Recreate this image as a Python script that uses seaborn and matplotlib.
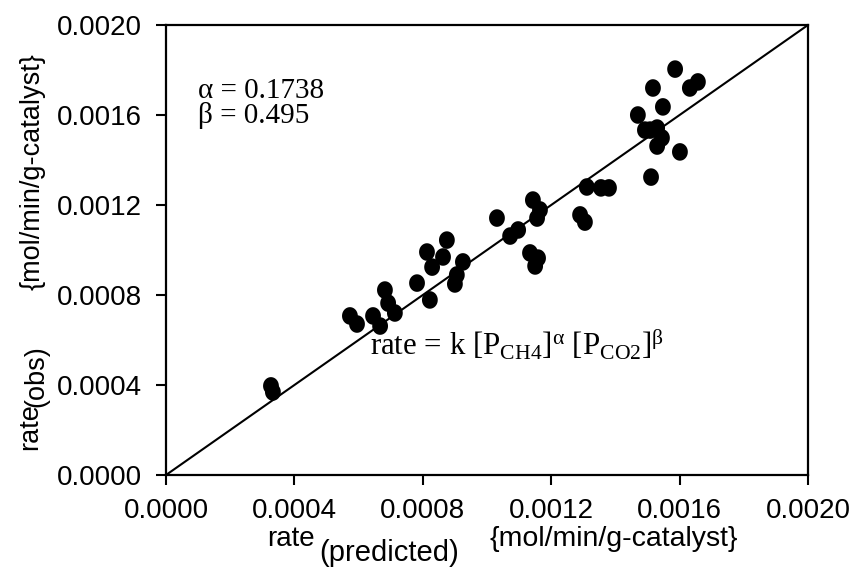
import numpy as np
import pandas as pd
import matplotlib
matplotlib.use("Agg")
import matplotlib.pyplot as plt
import seaborn as sns

# ---- data ----
rate_pred = [0.000327, 0.000333, 0.000573, 0.000595, 0.000645, 0.000667, 0.000682,
             0.000692, 0.000713, 0.000782, 0.000822, 0.000813, 0.000875, 0.000829,
             0.000863, 0.000925, 0.000906, 0.000900, 0.001031, 0.001072, 0.001097,
             0.001143, 0.001165, 0.001156, 0.001134, 0.001159, 0.001150, 0.001290,
             0.001305, 0.001311, 0.001355, 0.001380, 0.001511, 0.001601, 0.001530,
             0.001545, 0.001530, 0.001492, 0.001470, 0.001548, 0.001517, 0.001586,
             0.001632, 0.001657, 0.001508]
rate_obs = [0.000396, 0.000369, 0.000707, 0.000671, 0.000707, 0.000662, 0.000822,
            0.000764, 0.000720, 0.000853, 0.000778, 0.000991, 0.001044, 0.000924,
            0.000969, 0.000947, 0.000889, 0.000849, 0.001142, 0.001062, 0.001089,
            0.001222, 0.001178, 0.001142, 0.000987, 0.000964, 0.000929, 0.001156,
            0.001124, 0.001280, 0.001276, 0.001276, 0.001324, 0.001436, 0.001462,
            0.001498, 0.001542, 0.001533, 0.001600, 0.001636, 0.001720, 0.001804,
            0.001720, 0.001747, 0.001533]
parity_x = [0.0, 0.002]
parity_y = [0.0, 0.002]
tick_values = [0.0, 0.0004, 0.0008, 0.0012, 0.0016, 0.0020]
tick_labels = ["0.0000", "0.0004", "0.0008", "0.0012", "0.0016", "0.0020"]
alpha_text = "α = 0.1738"
beta_text = "β = 0.495"

df = pd.DataFrame({"pred": rate_pred, "obs": rate_obs})
line_df = pd.DataFrame({"x": parity_x, "y": parity_y})

sns.set_theme(style="white")
plt.rcParams["font.family"] = ["Liberation Sans", "DejaVu Sans"]
plt.rcParams["text.color"] = "black"
plt.rcParams["mathtext.fontset"] = "custom"
plt.rcParams["mathtext.rm"] = "Liberation Serif"
plt.rcParams["mathtext.it"] = "Liberation Serif:italic"
plt.rcParams["mathtext.bf"] = "Liberation Serif:bold"

W, H = 860, 577
fig = plt.figure(figsize=(W / 100, H / 100), dpi=100)
L, R, B, T = 166, 808, 475, 25
ax = fig.add_axes([L / W, 1 - B / H, (R - L) / W, (B - T) / H])

# ellipse marker (slightly taller than wide)
t = np.linspace(0, 2 * np.pi, 40)
ell = list(zip(0.9 * np.cos(t), np.sin(t)))

sns.lineplot(data=line_df, x="x", y="y", color="black", linewidth=1.5, ax=ax)
sns.scatterplot(data=df, x="pred", y="obs", color="black", marker=ell, s=160,
                edgecolor="none", linewidth=0, ax=ax, zorder=3)

ax.set_xlim(0, 0.002)
ax.set_ylim(0, 0.002)
ax.set_xticks(tick_values)
ax.set_yticks(tick_values)
ax.set_xticklabels(tick_labels, fontsize=20)
ax.set_yticklabels(tick_labels, fontsize=20)
ax.tick_params(direction="out", length=7, width=1.5, color="black",
               labelcolor="black", bottom=True, left=True)
ax.tick_params(axis="x", pad=9.6)
ax.tick_params(axis="y", pad=10.3)
for sp in ax.spines.values():
    sp.set_visible(True)
    sp.set_color("black")
    sp.set_linewidth(1.6)
ax.set_xlabel("")
ax.set_ylabel("")

serif = ["Liberation Serif", "DejaVu Serif"]
ax.text(0.0000997, 0.001676, alpha_text, fontsize=21, family=serif,
        va="baseline", color="black")
ax.text(0.0000997, 0.001564, beta_text, fontsize=21, family=serif,
        va="baseline", color="black")
ax.text(0.000635, 0.000533,
        r"rate = k [P$_{\mathrm{CH4}}$]$^{\mathrm{\alpha}}$ [P$_{\mathrm{CO2}}$]$^{\mathrm{\beta}}$",
        fontsize=22.2, family=serif, va="baseline", color="black")

# axis labels built from pieces (main text + lowered part + units)
def ftxt(x, y, s, rot=0, size=20):
    fig.text(x / W, 1 - y / H, s, fontsize=size, color="black", rotation=rot,
             rotation_mode="anchor", ha="left", va="baseline")

ftxt(267, 546, "rate")
ftxt(319, 561, "(predicted)", size=21)
ftxt(490, 546, "{mol/min/g-catalyst}", size=20.5)

ftxt(37, 450, "rate", rot=90, size=19.5)
ftxt(43, 407, "(obs)", rot=90, size=19.5)
ftxt(40, 290, "{mol/min/g-catalyst}", rot=90, size=19.5)

fig.savefig("out.png", dpi=100)
